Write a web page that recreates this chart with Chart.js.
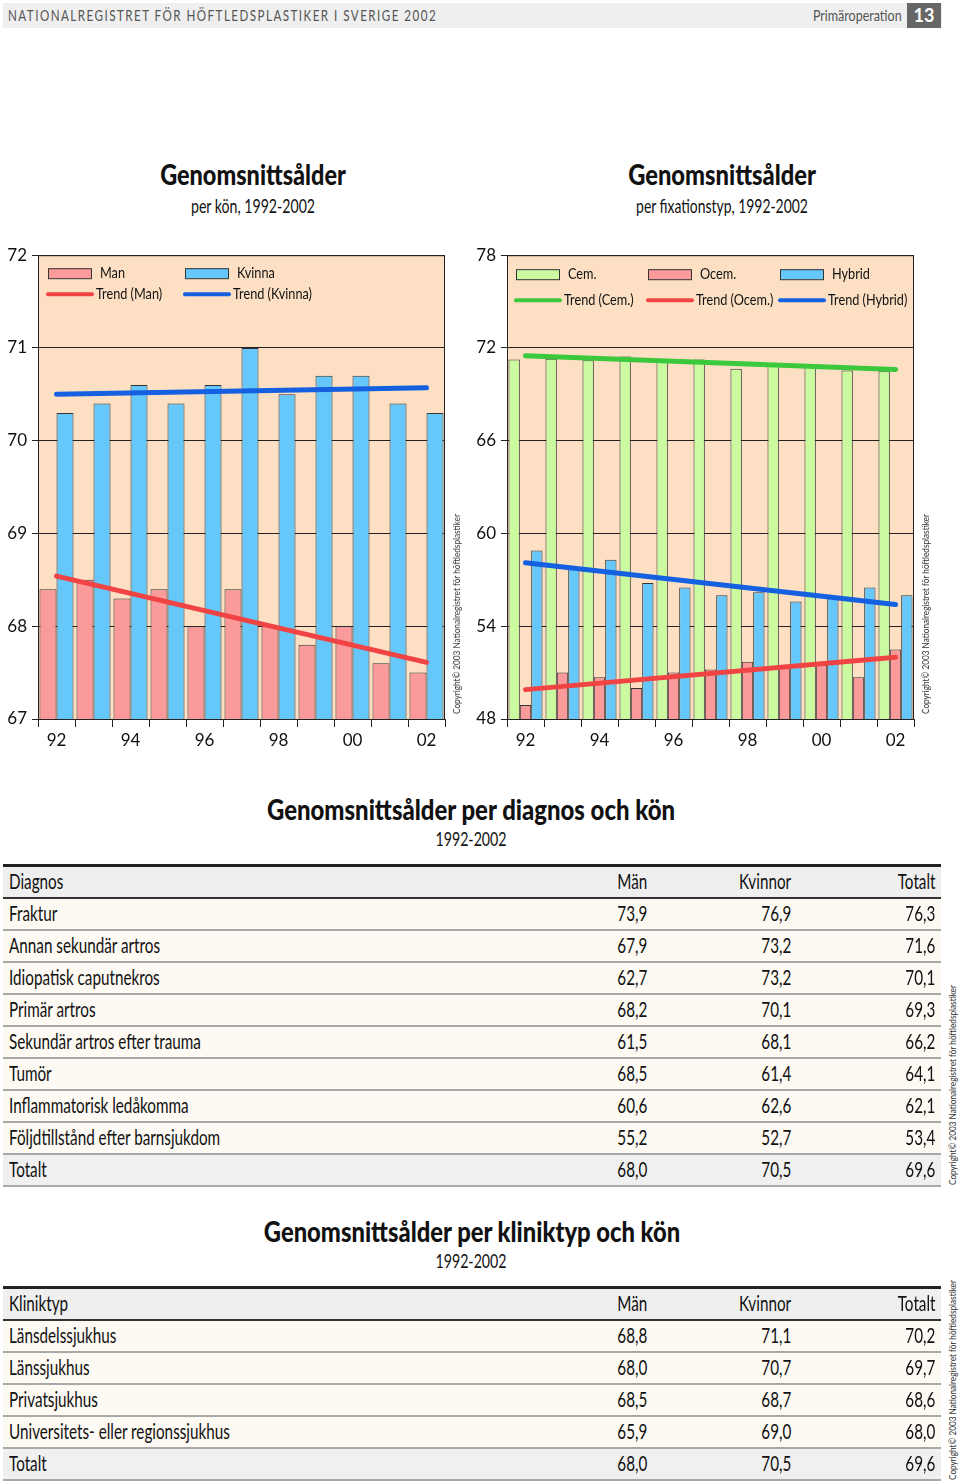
<!DOCTYPE html>
<html>
<head>
<meta charset="utf-8">
<script src="https://cdn.jsdelivr.net/npm/chart.js@4/dist/chart.umd.min.js"></script>
<style>
body { margin: 0; width: 960px; height: 1484px; background: #fff; position: relative; overflow: hidden;
  font-family: Lato, 'DejaVu Sans', sans-serif; color: #111; }
.abs { position: absolute; white-space: nowrap; }
.band { left: 3px; top: 3px; width: 939px; height: 25px; background: #efefef; }
.head { left: 8px; top: 5px; font-size: 16px; letter-spacing: 2px; color: #555; line-height: 20px; transform-origin: left center; }
.sect { right: 58px; top: 5px; font-size: 16px; color: #555; line-height: 20px; transform-origin: right center; }
.page { left: 907px; top: 3px; width: 34px; height: 25px; background: #666; color: #fff; font-weight: bold;
  font-size: 18px; line-height: 25px; text-align: center; }
.title { font-weight: 900; font-size: 28px; line-height: 32px; }
.sub { font-size: 19px; line-height: 22px; }
.copy { font-size: 10px; color: #333; }
.box { position: absolute; }
table { border-collapse: collapse; width: 938px; font-size: 22px; }
td { padding: 0 6px 3px; height: 27px; border-bottom: 2px solid #a8a8a8; background: #fdf9f3; white-space: nowrap; }
td span { display: inline-block; transform-origin: left center; }
td.n { text-align: right; }
td.n span { transform-origin: right center; }
tr.hd td { background: #efefef; border-top: 3px solid #222; border-bottom: 2px solid #333; }
tr.tot td { background: #f0f0f0; }
</style>
</head>
<body>
<div class="abs band"></div>
<div class="abs head" data-w="429" data-t="">NATIONALREGISTRET FÖR HÖFTLEDSPLASTIKER I SVERIGE 2002</div>
<div class="abs sect" data-w="89" data-t="">Primäroperation</div>
<div class="abs page">13</div>

<div class="abs title" style="left:253px;top:158px" data-w="186" data-t="translateX(-50%)">Genomsnittsålder</div>
<div class="abs sub" style="left:253px;top:195px" data-w="124" data-t="translateX(-50%)">per kön, 1992-2002</div>
<div class="abs title" style="left:722px;top:158px" data-w="188" data-t="translateX(-50%)">Genomsnittsålder</div>
<div class="abs sub" style="left:722px;top:195px" data-w="172" data-t="translateX(-50%)">per fixationstyp, 1992-2002</div>

<div class="box" style="left:0;top:240px;width:470px;height:520px"><canvas id="konChart"></canvas></div>
<div class="box" style="left:470px;top:240px;width:490px;height:520px"><canvas id="fixChart"></canvas></div>

<div class="abs copy" style="left:456px;top:614px" data-w="200" data-t="translate(-50%, -50%) rotate(-90deg)">Copyright© 2003 Nationalregistret för höftledsplastiker</div>
<div class="abs copy" style="left:925px;top:614px" data-w="200" data-t="translate(-50%, -50%) rotate(-90deg)">Copyright© 2003 Nationalregistret för höftledsplastiker</div>

<div class="abs title" style="left:471px;top:793px" data-w="408" data-t="translateX(-50%)">Genomsnittsålder per diagnos och kön</div>
<div class="abs sub" style="left:471px;top:828px" data-w="71" data-t="translateX(-50%)">1992-2002</div>
<div class="abs" style="left:3px;top:864px" id="diagTable"></div>
<div class="abs copy" style="left:952px;top:1085px" data-w="200" data-t="translate(-50%, -50%) rotate(-90deg)">Copyright© 2003 Nationalregistret för höftledsplastiker</div>

<div class="abs title" style="left:472px;top:1215px" data-w="416" data-t="translateX(-50%)">Genomsnittsålder per kliniktyp och kön</div>
<div class="abs sub" style="left:471px;top:1250px" data-w="71" data-t="translateX(-50%)">1992-2002</div>
<div class="abs" style="left:3px;top:1286px" id="klinTable"></div>
<div class="abs copy" style="left:952px;top:1380px" data-w="200" data-t="translate(-50%, -50%) rotate(-90deg)">Copyright© 2003 Nationalregistret för höftledsplastiker</div>

<script>
// years on x axis
const years = ['92', '93', '94', '95', '96', '97', '98', '99', '00', '01', '02'];

// left chart: age per sex
const manAge = [68.4, 68.5, 68.3, 68.4, 68.0, 68.4, 68.0, 67.8, 68.0, 67.6, 67.5];
const kvinnaAge = [70.3, 70.4, 70.6, 70.4, 70.6, 71.0, 70.5, 70.7, 70.7, 70.4, 70.3];
const trendMan = [68.54, null, null, null, null, null, null, null, null, null, 67.61];
const trendKvinna = [70.50, null, null, null, null, null, null, null, null, null, 70.57];
const konTicks = [67, 68, 69, 70, 71, 72];

// right chart: age per fixation type
const cemAge = [71.25, 71.3, 71.2, 71.45, 71.1, 71.25, 70.65, 70.9, 70.95, 70.55, 70.5];
const ocemAge = [48.9, 51.0, 50.7, 50.0, 51.0, 51.2, 51.7, 51.3, 51.5, 50.7, 52.5];
const hybridAge = [58.9, 57.7, 58.3, 56.8, 56.5, 56.0, 56.2, 55.6, 55.8, 56.5, 56.0];
const trendCem = [71.5, null, null, null, null, null, null, null, null, null, 70.6];
const trendOcem = [49.9, null, null, null, null, null, null, null, null, null, 52.0];
const trendHybrid = [58.1, null, null, null, null, null, null, null, null, null, 55.4];
const fixTicks = [48, 54, 60, 66, 72, 78];

// tables
const diagRows = ['Fraktur', 'Annan sekundär artros', 'Idiopatisk caputnekros', 'Primär artros',
  'Sekundär artros efter trauma', 'Tumör', 'Inflammatorisk ledåkomma', 'Följdtillstånd efter barnsjukdom', 'Totalt'];
const diagMan = ['73,9', '67,9', '62,7', '68,2', '61,5', '68,5', '60,6', '55,2', '68,0'];
const diagKvinnor = ['76,9', '73,2', '73,2', '70,1', '68,1', '61,4', '62,6', '52,7', '70,5'];
const diagTotalt = ['76,3', '71,6', '70,1', '69,3', '66,2', '64,1', '62,1', '53,4', '69,6'];

const klinRows = ['Länsdelssjukhus', 'Länssjukhus', 'Privatsjukhus', 'Universitets- eller regionssjukhus', 'Totalt'];
const klinMan = ['68,8', '68,0', '68,5', '65,9', '68,0'];
const klinKvinnor = ['71,1', '70,7', '68,7', '69,0', '70,5'];
const klinTotalt = ['70,2', '69,7', '68,6', '68,0', '69,6'];

const FONT = "Lato, 'DejaVu Sans', sans-serif";
Chart.defaults.font.family = FONT;
Chart.defaults.color = '#111';

// squeeze free text to the widths of the condensed original
document.querySelectorAll('[data-w]').forEach(el => {
    const k = +el.dataset.w / el.offsetWidth;
    el.style.transform = el.dataset.t + ' scaleX(' + k.toFixed(3) + ')';
});

// peach plot background and black frame
const plotFrame = {
    id: 'plotFrame',
    beforeDraw(chart) {
        const a = chart.chartArea, c = chart.ctx;
        c.save();
        c.fillStyle = '#fde0c4';
        c.fillRect(a.left, a.top, a.right - a.left, a.bottom - a.top);
        c.restore();
    },
    afterDraw(chart) {
        const a = chart.chartArea, c = chart.ctx;
        c.save();
        c.strokeStyle = '#222';
        c.lineWidth = 1;
        c.strokeRect(a.left + 0.5, a.top + 0.5, a.right - a.left - 1, a.bottom - a.top);
        c.restore();
    }
};

// legend drawn as a grid inside the plot area
const gridLegend = {
    id: 'gridLegend',
    afterDraw(chart, args, opts) {
        const a = chart.chartArea, c = chart.ctx;
        c.save();
        c.font = '16px ' + FONT;
        c.textBaseline = 'middle';
        const k = 79 / c.measureText('Trend (Kvinna)').width;
        const label = (txt, x, y) => {
            c.save();
            c.translate(x, y);
            c.scale(k, 1);
            c.fillStyle = '#111';
            c.fillText(txt, 0, 0);
            c.restore();
        };
        chart.data.datasets.forEach((ds, i) => {
            const col = i % opts.cols, row = Math.floor(i / opts.cols);
            const x = a.left + opts.x0 + col * opts.colW;
            const y = a.top + opts.rows[row];
            if (ds.type === 'line') {
                c.strokeStyle = ds.borderColor;
                c.lineWidth = 4;
                c.lineCap = 'round';
                c.beginPath();
                c.moveTo(x, y);
                c.lineTo(x + 44, y);
                c.stroke();
                label(ds.label, x + 48, y);
            } else {
                c.fillStyle = ds.backgroundColor;
                c.fillRect(x, y - 5, 43, 10);
                c.strokeStyle = '#333';
                c.lineWidth = 1;
                c.strokeRect(x + 0.5, y - 5 + 0.5, 43, 10);
                label(ds.label, x + 52, y);
            }
        });
        c.restore();
    }
};

function barSet(label, data, color) {
    return { type: 'bar', label: label, data: data, backgroundColor: color, borderColor: '#333',
        borderWidth: 1, order: 1, categoryPercentage: 0.92, barPercentage: 1 };
}
function trendSet(label, data, color) {
    return { type: 'line', label: label, data: data, borderColor: color, borderWidth: 5,
        pointRadius: 0, spanGaps: true, order: 0, borderCapStyle: 'round' };
}

function makeOptions(ticks, yWidth, padRight, legendOpts) {
    return {
        responsive: true,
        maintainAspectRatio: false,
        animation: false,
        layout: { padding: { top: 15, right: padRight, left: 0, bottom: 0 } },
        plugins: { legend: { display: false }, tooltip: { enabled: false }, gridLegend: legendOpts },
        scales: {
            x: {
                grid: { offset: true, drawOnChartArea: false, drawTicks: true, tickLength: 8, color: '#222' },
                border: { color: '#222' },
                ticks: { autoSkip: false, maxRotation: 0, padding: 3, font: { size: 17 },
                    callback: function (v, i) { return i % 2 === 0 ? this.getLabelForValue(v) : ''; } },
                afterFit: s => { s.height = 41; }
            },
            y: {
                min: ticks[0], max: ticks[ticks.length - 1],
                afterBuildTicks: s => { s.ticks = ticks.map(v => ({ value: v })); },
                grid: { color: '#222', tickLength: 6 },
                border: { color: '#222' },
                ticks: { padding: 5, font: { size: 17 } },
                afterFit: s => { s.width = yWidth; }
            }
        }
    };
}

new Chart(document.getElementById('konChart'), {
    data: {
        labels: years,
        datasets: [
            barSet('Man', manAge, '#fa9a9a'),
            barSet('Kvinna', kvinnaAge, '#66c8fa'),
            trendSet('Trend (Man)', trendMan, '#f04444'),
            trendSet('Trend (Kvinna)', trendKvinna, '#1560e0')
        ]
    },
    options: makeOptions(konTicks, 38, 25, { cols: 2, x0: 10, colW: 137, rows: [18, 39] }),
    plugins: [plotFrame, gridLegend]
});

new Chart(document.getElementById('fixChart'), {
    data: {
        labels: years,
        datasets: [
            barSet('Cem.', cemAge, '#ccfaa0'),
            barSet('Ocem.', ocemAge, '#fa9a9a'),
            barSet('Hybrid', hybridAge, '#66c8fa'),
            trendSet('Trend (Cem.)', trendCem, '#3cc83c'),
            trendSet('Trend (Ocem.)', trendOcem, '#f04444'),
            trendSet('Trend (Hybrid)', trendHybrid, '#1560e0')
        ]
    },
    options: makeOptions(fixTicks, 37, 46, { cols: 3, x0: 9, colW: 132, rows: [19, 45] }),
    plugins: [plotFrame, gridLegend]
});

function buildTable(id, head, rows, men, women, total) {
    let html = '<table><colgroup><col style="width:520px"><col style="width:130px"><col style="width:144px"><col style="width:144px"></colgroup>';
    html += '<tr class="hd">' + head.map((h, i) => `<td class="${i ? 'n' : ''}"><span>${h}</span></td>`).join('') + '</tr>';
    rows.forEach((r, i) => {
        const cls = i === rows.length - 1 ? 'tot' : '';
        html += `<tr class="${cls}"><td><span>${r}</span></td><td class="n"><span>${men[i]}</span></td>` +
            `<td class="n"><span>${women[i]}</span></td><td class="n"><span>${total[i]}</span></td></tr>`;
    });
    document.getElementById(id).innerHTML = html + '</table>';
}
buildTable('diagTable', ['Diagnos', 'Män', 'Kvinnor', 'Totalt'], diagRows, diagMan, diagKvinnor, diagTotalt);
buildTable('klinTable', ['Kliniktyp', 'Män', 'Kvinnor', 'Totalt'], klinRows, klinMan, klinKvinnor, klinTotalt);

// condense table text: 'Annan sekundär artros' is 151px wide in the original
const probe = document.querySelectorAll('#diagTable td span')[8];
const tk = 151 / probe.offsetWidth;
document.querySelectorAll('td span').forEach(s => { s.style.transform = 'scaleX(' + tk.toFixed(3) + ')'; });
</script>
</body>
</html>
